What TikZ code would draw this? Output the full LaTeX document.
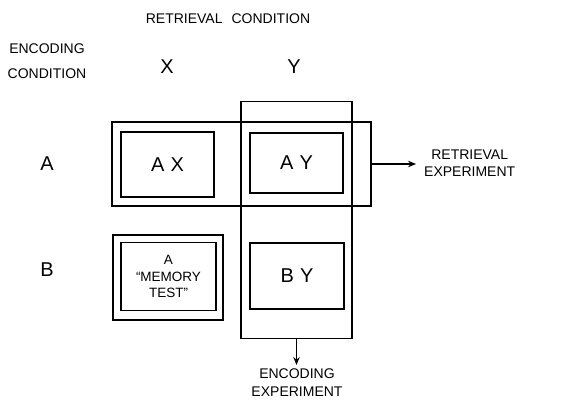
\documentclass[tikz,border=0pt]{standalone}
\usepackage{fontspec}
\setmainfont{Liberation Sans}
\usetikzlibrary{arrows.meta}
\tikzset{
  x=1pt, y=-1pt,
  box/.style={draw=black, line width=1.5pt, inner sep=0pt, minimum width=#1},
  big/.style={font=\fontsize{20}{24}\selectfont, inner sep=0pt},
  small/.style={font=\fontsize{14}{#1}\selectfont, inner sep=0pt, align=center},
  memo/.style={font=\fontsize{13.5}{#1}\selectfont, inner sep=0pt, align=center},
  conn/.style={line width=1.3pt, -{Stealth[length=8pt,width=6.5pt]}}
}
\begin{document}
\begin{tikzpicture}
\useasboundingbox (0,0) rectangle (576,402);
% outer grouping boxes
\node[box=259pt, minimum height=84pt] (rowA) at (241.5,164) {};
\node[box=111pt, minimum height=237pt] (colY) at (296.5,220) {};
% cells
\node[box=93pt, minimum height=65pt, big] (AX) at (167.5,164.5) {A\hspace{6pt}X};
\node[box=93pt, minimum height=60pt, big] (AY) at (296.5,163) {A\hspace{6pt}Y};
\node[box=110pt, minimum height=85pt] (memOuter) at (168,277.5) {};
\node[box=95pt, minimum height=68pt, memo=16.5] (memInner) at (168.5,276.5) {A\\“MEMORY\\TEST”};
\node[box=94pt, minimum height=66pt, big] (BY) at (297,276) {B\hspace{6pt}Y};
% headers
\node[small=20] (retcond) at (228,19) {RETRIEVAL\hspace{9pt}CONDITION};
\node[small=25] (enccond) at (47,61) {ENCODING\\CONDITION};
\node[big] (colX) at (167,67) {X};
\node[big] (colYlab) at (294,67) {Y};
\node[big] (rowAlab) at (47,164) {A};
\node[big] (rowBlab) at (47,270) {B};
% experiment labels and connectors
\coordinate (retEnd) at (416,164);
\coordinate (encEnd) at (296.5,365);
\node[small=18, anchor=north] (encexp) at (297,369) {ENCODING\\EXPERIMENT};
\node[small=17, anchor=west] (retexp) at (424,163) {RETRIEVAL\\EXPERIMENT};
\draw[conn] (rowA.east) -- (retEnd);
\draw[conn] (colY.south) -- (encEnd);
\end{tikzpicture}
\end{document}
